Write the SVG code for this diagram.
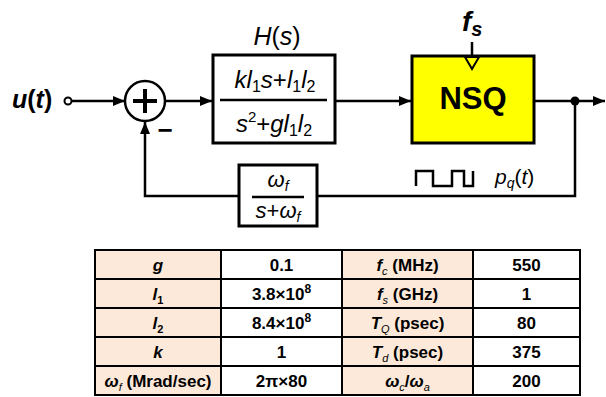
<svg xmlns="http://www.w3.org/2000/svg" width="606" height="397" viewBox="0 0 606 397">
<style>
.ln{stroke:#000;stroke-width:2.5;fill:none}
.bx{stroke:#000;stroke-width:3}
.t{font-family:"Liberation Sans",Arial,sans-serif}
.tb{font-family:"Liberation Sans",Arial,sans-serif;font-weight:bold;font-size:17px;text-anchor:middle}
.c1{fill:#fde9d9;stroke:#000;stroke-width:2}
.c2{fill:#fff;stroke:#000;stroke-width:2}
.i{font-style:italic}
.sb{font-size:11px;font-style:italic;font-weight:normal}
.sd{font-size:11px;font-weight:bold;font-style:normal}
</style>
<defs>
<marker id="ah" markerWidth="12" markerHeight="10" refX="12" refY="5" orient="auto" markerUnits="userSpaceOnUse"><path d="M0,0 L12,5 L0,10 z" fill="#000"/></marker>
</defs>
<g id="connectors">
<path class="ln" d="M72,101 H125" marker-end="url(#ah)"/>
<path class="ln" d="M165,101 H212" marker-end="url(#ah)"/>
<path class="ln" d="M335,101 H411" marker-end="url(#ah)"/>
<path class="ln" d="M534,101 H605" marker-end="url(#ah)"/>
<path class="ln" d="M575,101 V196 H317"/>
<path class="ln" d="M239,196 H145 V122" marker-end="url(#ah)"/>
<path class="ln" d="M472,42 V57"/>
<circle cx="575" cy="101" r="4.5" fill="#000"/>
</g>
<g id="input">
<text class="t" x="12" y="108" font-size="25" font-weight="bold"><tspan class="i">u</tspan>(<tspan class="i">t</tspan>)</text>
<circle cx="68" cy="101" r="3.5" fill="#fff" stroke="#000" stroke-width="2"/>
</g>
<g id="sum">
<circle cx="145" cy="101" r="20" fill="#fff" stroke="#000" stroke-width="2.5"/>
<path d="M133,101 H157 M145,89 V113" stroke="#000" stroke-width="4"/>
<text class="t" x="165" y="139" font-size="26" font-weight="bold" text-anchor="middle">−</text>
</g>
<g id="H">
<text class="t" x="277" y="45" font-size="25" text-anchor="middle"><tspan class="i">H</tspan>(<tspan class="i">s</tspan>)</text>
<rect class="bx" x="213" y="55" width="122" height="88" fill="#fff"/>
<text class="t" x="275" y="88" font-size="24" text-anchor="middle"><tspan class="i">kl</tspan><tspan font-size="16" dy="4">1</tspan><tspan class="i" dy="-4">s</tspan>+<tspan class="i">l</tspan><tspan font-size="16" dy="4">1</tspan><tspan class="i" dy="-4">l</tspan><tspan font-size="16" dy="4">2</tspan></text>
<path d="M220,100 H327" stroke="#000" stroke-width="2.5"/>
<text class="t" x="274" y="132" font-size="24" text-anchor="middle"><tspan class="i">s</tspan><tspan font-size="15" dy="-10">2</tspan><tspan dy="10">+</tspan><tspan class="i">gl</tspan><tspan font-size="16" dy="4">1</tspan><tspan class="i" dy="-4">l</tspan><tspan font-size="16" dy="4">2</tspan></text>
</g>
<g id="NSQ">
<rect class="bx" x="412" y="56" width="122" height="87" fill="#ffff00"/>
<polygon points="465,57 479,57 472,69" fill="#ffff00" stroke="#000" stroke-width="2"/>
<text class="t" x="473" y="109" font-size="31" font-weight="bold" text-anchor="middle">NSQ</text>
<text class="t" x="462" y="31" font-size="28" font-weight="bold" font-style="italic">f<tspan font-size="20" dy="5">s</tspan></text>
</g>
<g id="filter">
<rect class="bx" x="239" y="165" width="78" height="61" fill="#fff"/>
<text class="t" x="278" y="187" font-size="22" text-anchor="middle"><tspan class="i">ω</tspan><tspan class="i" font-size="14" dy="4">f</tspan></text>
<path d="M252,197 H304" stroke="#000" stroke-width="2.5"/>
<text class="t" x="278" y="218" font-size="22" text-anchor="middle"><tspan class="i">s</tspan>+<tspan class="i">ω</tspan><tspan class="i" font-size="14" dy="4">f</tspan></text>
</g>
<g id="pq">
<path d="M416,186 V171 H433 V186 H452 V171 H464 V186 H473 V171" fill="none" stroke="#000" stroke-width="2.5"/>
<text class="t" x="495" y="184" font-size="21"><tspan class="i">p</tspan><tspan class="i" font-size="14" dy="4">q</tspan><tspan dy="-4">(</tspan><tspan class="i">t</tspan>)</text>
</g>
<g id="table">
<rect class="c1" x="95" y="250" width="126" height="29"/><rect class="c2" x="221" y="250" width="121" height="29"/><rect class="c1" x="342" y="250" width="131" height="29"/><rect class="c2" x="473" y="250" width="107" height="29"/>
<rect class="c1" x="95" y="279" width="126" height="29"/><rect class="c2" x="221" y="279" width="121" height="29"/><rect class="c1" x="342" y="279" width="131" height="29"/><rect class="c2" x="473" y="279" width="107" height="29"/>
<rect class="c1" x="95" y="308" width="126" height="29"/><rect class="c2" x="221" y="308" width="121" height="29"/><rect class="c1" x="342" y="308" width="131" height="29"/><rect class="c2" x="473" y="308" width="107" height="29"/>
<rect class="c1" x="95" y="337" width="126" height="29"/><rect class="c2" x="221" y="337" width="121" height="29"/><rect class="c1" x="342" y="337" width="131" height="29"/><rect class="c2" x="473" y="337" width="107" height="29"/>
<rect class="c1" x="95" y="366" width="126" height="29"/><rect class="c2" x="221" y="366" width="121" height="29"/><rect class="c1" x="342" y="366" width="131" height="29"/><rect class="c2" x="473" y="366" width="107" height="29"/>
<text class="tb" x="158" y="271"><tspan class="i">g</tspan></text>
<text class="tb" x="158" y="300"><tspan class="i">l</tspan><tspan class="sd" dy="4">1</tspan></text>
<text class="tb" x="158" y="329"><tspan class="i">l</tspan><tspan class="sd" dy="4">2</tspan></text>
<text class="tb" x="158" y="358"><tspan class="i">k</tspan></text>
<text class="tb" x="158" y="387"><tspan class="i">ω</tspan><tspan class="sb" dy="4">f</tspan><tspan dy="-4"> (Mrad/sec)</tspan></text>
<text class="tb" x="281.5" y="271">0.1</text>
<text class="tb" x="281.5" y="300">3.8×10<tspan font-size="12" dy="-7">8</tspan></text>
<text class="tb" x="281.5" y="329">8.4×10<tspan font-size="12" dy="-7">8</tspan></text>
<text class="tb" x="281.5" y="358">1</text>
<text class="tb" x="281.5" y="387">2π×80</text>
<text class="tb" x="407.5" y="271"><tspan class="i">f</tspan><tspan class="sb" dy="4">c</tspan><tspan dy="-4"> (MHz)</tspan></text>
<text class="tb" x="407.5" y="300"><tspan class="i">f</tspan><tspan class="sb" dy="4">s</tspan><tspan dy="-4"> (GHz)</tspan></text>
<text class="tb" x="407.5" y="329"><tspan class="i">T</tspan><tspan class="sb" dy="4">Q</tspan><tspan dy="-4"> (psec)</tspan></text>
<text class="tb" x="407.5" y="358"><tspan class="i">T</tspan><tspan class="sb" dy="4">d</tspan><tspan dy="-4"> (psec)</tspan></text>
<text class="tb" x="407.5" y="387"><tspan class="i">ω</tspan><tspan class="sb" dy="4">c</tspan><tspan dy="-4">/</tspan><tspan class="i">ω</tspan><tspan class="sb" dy="4">a</tspan></text>
<text class="tb" x="526.5" y="271">550</text>
<text class="tb" x="526.5" y="300">1</text>
<text class="tb" x="526.5" y="329">80</text>
<text class="tb" x="526.5" y="358">375</text>
<text class="tb" x="526.5" y="387">200</text>
</g>
</svg>
